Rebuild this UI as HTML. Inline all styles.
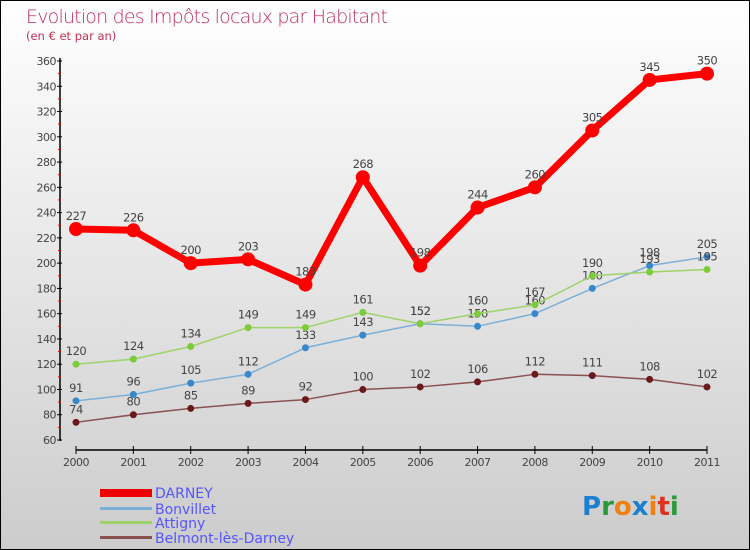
<!DOCTYPE html>
<html><head><meta charset="utf-8"><style>
body{margin:0;width:750px;height:550px;overflow:hidden;font-family:"DejaVu Sans","Liberation Sans",sans-serif}
#wrap{position:absolute;left:0;top:0;width:748px;height:548px;border:1px solid #000;background:linear-gradient(#fff,#ccc)}
</style></head><body>
<div id="wrap">
<svg id="svg" width="750" height="550" style="position:absolute;left:-1px;top:-1px">
<text x="26" y="23" font-size="19" fill="#c0305a" font-family="DejaVu Sans" font-weight="200" textLength="362">Evolution des Impôts locaux par Habitant</text>
<text x="26" y="40" font-size="11.5" fill="#c0305a">(en € et par an)</text>
<g id="axes"></g><g id="series"></g>
<g>
<rect x="100" y="489" width="52" height="8" fill="#e00"/>
<text x="155" y="498" font-size="14" fill="#55f">DARNEY</text>
<rect x="100" y="507" width="52" height="3" fill="#7ab0d8"/>
<text x="155" y="514" font-size="14" fill="#55f">Bonvillet</text>
<rect x="100" y="521" width="52" height="3" fill="#9ed36a"/>
<text x="155" y="528" font-size="14" fill="#55f">Attigny</text>
<rect x="100" y="536" width="52" height="3" fill="#8b5050"/>
<text x="155" y="543" font-size="14" fill="#55f">Belmont-lès-Darney</text>
</g>
<text x="582" y="515" font-size="26" font-weight="bold" font-family="DejaVu Sans"><tspan fill="#1a7fd0">P</tspan><tspan fill="#2a9a3a">r</tspan><tspan fill="#f08010">o</tspan><tspan fill="#1a7fd0">x</tspan><tspan fill="#f08010">i</tspan><tspan fill="#e03020">t</tspan><tspan fill="#2a9a3a">i</tspan></text>
</svg></div>
<script>
const years=[2000,2001,2002,2003,2004,2005,2006,2007,2008,2009,2010,2011];
const yTicks=[60,80,100,120,140,160,180,200,220,240,260,280,300,320,340,360];
const darney=[227,226,200,203,183,268,198,244,260,305,345,350];
const bonvillet=[91,96,105,112,133,143,152,150,160,180,198,205];
const attigny=[120,124,134,149,149,161,152,160,167,190,193,195];
const belmont=[74,80,85,89,92,100,102,106,112,111,108,102];
const NS="http://www.w3.org/2000/svg";
const X=i=>76+i*(707-76)/11;
const Y=v=>440-(v-60)*(440-61)/300;
function mk(t,a,p){const e=document.createElementNS(NS,t);for(const k in a)e.setAttribute(k,a[k]);p.appendChild(e);return e;}
const ax=document.getElementById('axes'),sr=document.getElementById('series');
const ya=mk('line',{x1:60,y1:58,x2:60,y2:441,stroke:'#000','stroke-width':1.5},ax);


const xa=mk('line',{x1:76,y1:450,x2:707,y2:450,stroke:'#000','stroke-width':1.5},ax);


yTicks.forEach(v=>{
 mk('line',{x1:57,x2:62,y1:Y(v),y2:Y(v),stroke:'#000'},ax);
 if(v<360)mk('line',{x1:58,x2:61,y1:Y(v+10),y2:Y(v+10),stroke:'#e00'},ax);
 const t=mk('text',{x:56,y:Y(v)+4,'font-size':11,fill:'#444','text-anchor':'end','letter-spacing':'-0.5'},ax);t.textContent=v;
 
 
});
years.forEach((yr,i)=>{
 mk('line',{x1:X(i),x2:X(i),y1:446,y2:454,stroke:'#000'},ax);
 const t=mk('text',{x:X(i),y:466,'font-size':11,fill:'#444','text-anchor':'middle','letter-spacing':'-0.5'},ax);t.textContent=yr;
 
 
});
function series(vals,color,w,r,dot,name){
 const g=mk('g',{},sr);
 
 
 const pl=mk('polyline',{points:vals.map((v,i)=>X(i)+','+Y(v)).join(' '),fill:'none',stroke:color,'stroke-width':w,'stroke-linejoin':'round'},g);
 
 
 vals.forEach((v,i)=>{
  const c=mk('circle',{cx:X(i),cy:Y(v),r:r,fill:dot},g);
  
  
  const t=mk('text',{x:X(i),y:Y(v)-9,'font-size':11.5,fill:'#444','text-anchor':'middle','letter-spacing':'-0.5'},g);t.textContent=v;
  
  
 });
}
series(belmont,'#8b5050',1.5,3.5,'#6a1a1a','belmont');
series(bonvillet,'#7ab0d8',1.5,3.5,'#3a88cc','bonvillet');
series(attigny,'#9ed36a',1.5,3.5,'#7ccc3a','attigny');
series(darney,'#f00',7,7,'#f00','darney');
</script>
</body></html>
